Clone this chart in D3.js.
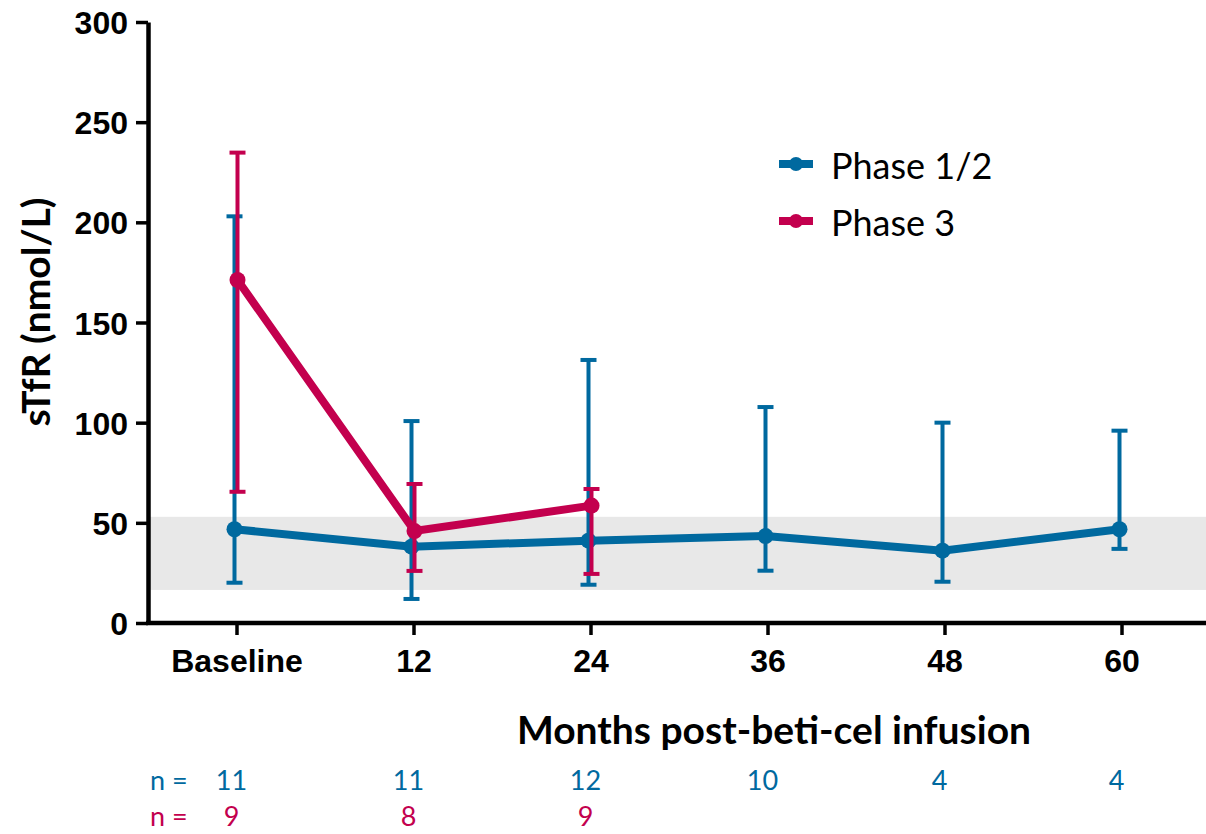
<!DOCTYPE html>
<html>
  <head>
    <meta charset="utf-8">
    <title>sTfR over time</title>
    <script src="https://d3js.org/d3.v7.min.js"></script>
    <style>
      body { margin: 0; background: #fff; }
      svg { display: block; font-family: Lato, "Open Sans", sans-serif; }
      .tick text { font-weight: bold; fill: #000; }
    </style>
  </head>
  <body>
    <svg id="chart" width="1206" height="834"></svg>
    <script>
      // data
      categories = ["Baseline", "12", "24", "36", "48", "60"];
      yTicks = [0, 50, 100, 150, 200, 250, 300];
      phase12Mean = [46.8, 38.1, 41.1, 43.4, 36.1, 46.8];
      phase12Upper = [203, 100.8, 131.3, 107.8, 100, 96];
      phase12Lower = [20.1, 12, 19.1, 26.1, 20.6, 37];
      phase3Mean = [171.2, 45.9, 58.6];
      phase3Upper = [234.8, 69.4, 66.9];
      phase3Lower = [65.5, 26, 24.5];
      nPhase12 = [11, 11, 12, 10, 4, 4];
      nPhase3 = [9, 8, 9];
      normalRange = [16.5, 53];

      blue = "#00699f";
      red = "#c3004e";

      svg = d3.select("#chart");
      x = d3.scalePoint().domain(categories).range([148, 1210]).padding(0.5);
      y = d3.scaleLinear().domain([0, 300]).range([623, 22]);

      // normal range band
      svg.append("rect")
        .attr("x", 148)
        .attr("width", 1206 - 148)
        .attr("y", y(normalRange[1]))
        .attr("height", y(normalRange[0]) - y(normalRange[1]))
        .attr("fill", "#e8e8e8");

      // axes
      yAxis = svg.append("g")
        .attr("transform", "translate(148,0)")
        .call(d3.axisLeft(y).tickValues(yTicks).tickSize(12).tickPadding(8).tickSizeOuter(0));
      yAxis.selectAll(".tick line").attr("stroke-width", 3.5);
      yAxis.select(".domain").attr("stroke-width", 4.5);
      yAxis.selectAll(".tick text").style("font-size", "32px").attr("dy", "0.36em");

      xAxis = svg.append("g")
        .attr("transform", "translate(0,623)")
        .call(d3.axisBottom(x).tickSize(12).tickPadding(14));
      xAxis.select(".domain").remove();
      xAxis.selectAll(".tick line").attr("stroke-width", 3.5);
      xAxis.selectAll(".tick text").style("font-size", "32px");
      svg.append("line")
        .attr("x1", 146).attr("x2", 1206)
        .attr("y1", 623).attr("y2", 623)
        .attr("stroke", "#000").attr("stroke-width", 4.5);

      // axis titles
      svg.append("text")
        .attr("transform", "translate(50,312) rotate(-90)")
        .attr("text-anchor", "middle")
        .style("font-size", "39px")
        .style("font-weight", "bold")
        .text("sTfR (nmol/L)");
      svg.append("text")
        .attr("x", 774).attr("y", 744)
        .attr("text-anchor", "middle")
        .style("font-size", "39px")
        .style("font-weight", "bold")
        .text("Months post-beti-cel infusion");

      // series
      function drawSeries(mean, upper, lower, color, shift) {
        let g = svg.append("g");
        let rows = mean.map(function(d, i) {
          return { cat: categories[i], mean: d, hi: upper[i], lo: lower[i] };
        });
        let cx = function(d) { return x(d.cat) + shift; };
        g.selectAll(".bar").data(rows).enter().append("line")
          .attr("x1", cx).attr("x2", cx)
          .attr("y1", function(d) { return y(d.hi); })
          .attr("y2", function(d) { return y(d.lo); })
          .attr("stroke", color).attr("stroke-width", 4);
        ["hi", "lo"].forEach(function(k) {
          g.selectAll(".cap-" + k).data(rows).enter().append("line")
            .attr("x1", function(d) { return cx(d) - 8; })
            .attr("x2", function(d) { return cx(d) + 8; })
            .attr("y1", function(d) { return y(d[k]); })
            .attr("y2", function(d) { return y(d[k]); })
            .attr("stroke", color).attr("stroke-width", 4);
        });
        g.append("path")
          .datum(rows)
          .attr("fill", "none")
          .attr("stroke", color)
          .attr("stroke-width", 8)
          .attr("d", d3.line().x(cx).y(function(d) { return y(d.mean); }));
        g.selectAll("circle").data(rows).enter().append("circle")
          .attr("cx", cx)
          .attr("cy", function(d) { return y(d.mean); })
          .attr("r", 8)
          .attr("fill", color);
      }
      drawSeries(phase12Mean, phase12Upper, phase12Lower, blue, -2);
      drawSeries(phase3Mean, phase3Upper, phase3Lower, red, 1);

      // legend
      legend = svg.append("g");
      [["Phase 1/2", blue, 164], ["Phase 3", red, 221]].forEach(function(item) {
        legend.append("line")
          .attr("x1", 779).attr("x2", 813)
          .attr("y1", item[2]).attr("y2", item[2])
          .attr("stroke", item[1]).attr("stroke-width", 8);
        legend.append("circle")
          .attr("cx", 796).attr("cy", item[2]).attr("r", 7)
          .attr("fill", item[1]);
        legend.append("text")
          .attr("x", 831).attr("y", item[2] + 15)
          .style("font-size", "36px")
          .text(item[0]);
      });

      // n counts
      [[nPhase12, blue, 790], [nPhase3, red, 826]].forEach(function(row) {
        svg.append("text")
          .attr("x", 150).attr("y", row[2])
          .attr("fill", row[1])
          .style("font-size", "27px")
          .text("n =");
        svg.selectAll(null).data(row[0]).enter().append("text")
          .attr("x", function(d, i) { return x(categories[i]) - 5; })
          .attr("y", row[2])
          .attr("text-anchor", "middle")
          .attr("fill", row[1])
          .style("font-size", "27px")
          .text(function(d) { return d; });
      });
    </script>
  </body>
</html>
